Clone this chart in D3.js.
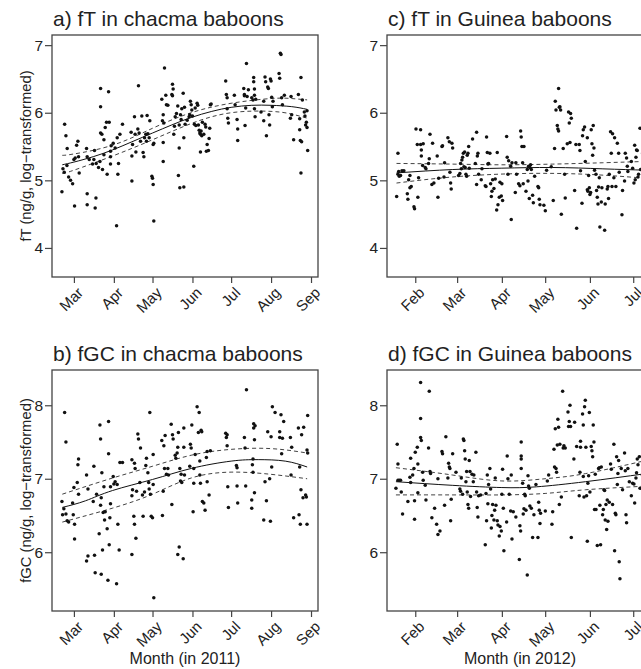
<!DOCTYPE html>
<html>
<head>
<meta charset="utf-8">
<script src="https://cdn.jsdelivr.net/npm/d3@7/dist/d3.min.js"></script>
<style>
  html, body { margin: 0; padding: 0; background: #fff; }
  svg { display: block; font-family: "Liberation Sans", Arial, Helvetica, sans-serif; }
</style>
</head>
<body>
<svg id="chart" width="641" height="669"></svg>
<script>
// ---- data: [days since first month tick, log value] ----
// a) fT chacma, days since 2011-03-01
const chacmaT = [
  [-9.3,4.83],[-7.2,5.83],[-6.2,5.66],[-5.2,5.47],[-8.5,5.17],[-7.5,5.12],[-5.4,5.22],[-4.1,5.05],[-2.6,5.0],[-1.0,4.95],
  [0.5,4.62],[0,5.31],[1.0,5.33],[2.1,5.52],[3.1,5.58],[3.6,5.35],[4.1,5.11],
  [9.8,5.47],[10.3,5.35],[10.3,4.80],[10.3,4.64],[11.9,5.31],[14.5,5.24],[15.5,5.31],[16.0,5.44],[16.5,4.59],[17.1,4.74],
  [17.3,5.25],[19.1,5.19],[20.2,5.28],[20.7,6.36],[20.7,6.09],[20.7,5.70],[21.7,5.68],[22.2,5.16],[23.3,5.60],[23.3,5.38],
  [24.3,5.78],[25.3,5.86],[25.8,5.09],[26.9,6.31],[27.4,5.86],[28.4,5.43],[28.4,5.35],[28.4,5.24],[28.9,5.51],[30.5,5.55],
  [32.0,5.48],[33.1,4.33],[33.6,5.63],[34.1,5.09],[34.6,5.25],[35.7,5.68],[37.7,5.83],
  [44.4,5.71],[45.0,5.36],[45.0,4.99],[45.5,5.53],[47.0,5.94],[47.5,5.68],[48.1,5.42],[49.6,5.76],[50.1,6.40],[50.6,5.70],
  [51.7,5.58],[52.7,5.95],[53.7,5.41],[54.3,5.35],[54.8,5.63],[55.8,5.68],[56.3,5.58],[56.8,5.96],[57.4,5.69],[58.4,5.63],
  [58.9,5.88],[60.5,5.06],[61.0,5.03],[61.5,4.94],[61.5,5.53],[62.0,4.40],[62.0,5.55],
  [68.2,6.20],[68.7,5.88],[69.3,5.97],[69.3,5.56],[69.3,5.28],[69.8,5.85],[70.3,6.66],[71.3,6.26],[71.8,6.12],[72.9,6.11],
  [76.0,6.27],[76.5,6.42],[76.5,6.25],[77.0,6.35],[77.5,5.68],[78.0,5.80],[78.6,5.94],[79.6,5.99],[80.6,6.10],[81.1,5.07],
  [81.7,5.48],[81.7,5.82],[82.2,4.89],[82.7,5.97],[83.2,5.90],[83.7,6.06],[84.8,6.29],[85.3,4.90],[85.3,5.63],[85.8,6.08],
  [86.3,5.83],[87.9,5.89],[89.4,5.94],[89.9,5.97],[90.4,6.17],[91.0,6.12],[91.5,6.04],
  [92.0,5.95],[93.0,5.21],[93.5,5.83],[94.1,6.07],[94.6,5.81],[95.6,6.14],[96.1,6.11],[96.6,5.82],[97.2,5.74],[97.7,5.70],
  [98.2,5.42],[98.2,5.68],[98.7,5.73],[99.2,5.66],[99.7,5.86],[100.8,5.68],[101.8,5.83],[102.3,5.79],[102.8,5.43],[103.4,5.53],
  [104.4,5.44],[104.9,5.62],[105.4,5.77],[105.9,6.12],[106.5,6.13],
  [117.8,6.47],[118.3,6.27],[118.9,6.22],[118.9,6.06],[119.4,5.92],[119.9,5.85],[124.5,6.26],[125.1,6.12],[126.6,5.90],[127.1,5.76],
  [127.1,5.59],[131.8,6.36],[132.3,6.27],[132.3,6.25],[132.8,5.81],[133.3,6.07],[133.9,6.73],[134.4,6.24],[135.4,6.34],[138.0,6.22],
  [139.0,6.19],[139.5,6.52],[139.5,6.46],[140.1,6.35],[140.1,6.26],[140.1,6.06],[140.6,5.94],[141.1,6.20],
  [145.2,6.01],[147.3,6.17],[147.3,5.88],[148.3,6.53],[148.8,6.46],[149.4,5.66],[150.4,6.38],[150.9,6.36],[151.4,5.97],[151.9,5.82],
  [152.5,6.50],[153.0,6.47],[153.5,6.23],[154.0,6.09],[154.5,6.17],[159.2,6.58],[159.7,6.51],[160.2,6.88],[160.7,6.86],[161.2,6.22],
  [161.8,6.12],[163.3,6.26],
  [168.0,5.92],[168.5,6.24],[169.0,5.97],[170.5,5.60],[174.2,6.27],[175.2,5.91],[175.2,5.75],[175.7,5.59],[176.2,5.11],[176.2,6.52],
  [176.7,5.57],[177.3,6.19],[178.8,6.01],[179.3,5.95],[179.8,5.82],[180.4,5.86],[180.9,5.78],[180.9,6.03],[181.4,5.44]
];
const chacmaTFit = [[-9,5.23],[0,5.27],[15,5.35],[30,5.45],[45,5.57],[61,5.70],[76,5.82],[91,5.93],[107,6.02],[122,6.08],[138,6.11],[153,6.11],[169,6.09],[181,6.05]];
const chacmaTHi = [[-9,5.37],[0,5.39],[30,5.52],[61,5.77],[91,6.0],[122,6.14],[153,6.21],[169,6.21],[181,6.19]];
const chacmaTLo = [[-9,5.10],[0,5.15],[30,5.36],[61,5.60],[91,5.84],[122,6.0],[153,6.02],[169,5.98],[181,5.92]];

// b) fGC chacma, days since 2011-03-01
const chacmaGC = [
  [-9.3,6.69],[-8.8,6.51],[-7.8,6.59],[-7.2,7.90],[-6.2,7.50],[-6.2,6.52],[-5.2,6.43],[-4.1,6.41],[-1.0,6.67],[-0.5,6.51],
  [0,6.88],[0.5,6.38],[0.5,6.18],[2.6,6.95],[3.1,7.19],[3.6,7.27],[3.6,6.79],[9.8,7.05],[9.8,5.88],[10.9,5.95],[10.9,6.86],
  [15.0,6.69],[15.5,7.17],[16.0,5.96],[16.5,5.72],[17.6,6.79],[19.6,6.25],[20.2,7.73],[20.7,7.54],[20.7,6.64],[21.2,5.70],
  [21.2,6.74],[21.7,7.08],[22.2,6.03],[22.7,6.54],[23.3,6.89],[23.8,6.44],[24.3,6.55],[25.8,6.32],[26.4,5.62],[26.9,7.78],
  [26.9,7.34],[27.4,6.10],[27.9,6.47],[28.4,6.66],[28.4,6.89],[30.5,7.03],[31.0,6.93],[32.0,6.96],[33.1,5.57],[33.6,6.92],
  [34.1,6.38],[35.1,6.03],[35.7,7.22],[37.7,7.22],
  [45.0,7.26],[45.0,6.77],[45.0,5.97],[45.5,6.85],[46.5,6.49],[47.0,6.38],[47.0,7.21],[47.5,7.14],[48.1,6.19],[48.6,6.83],
  [49.6,7.61],[50.1,7.54],[51.2,6.95],[51.7,7.42],[53.2,6.78],[53.7,6.49],[54.8,6.82],[55.8,7.18],[56.3,7.28],[57.4,7.08],
  [58.0,6.95],[58.4,6.86],[58.9,7.90],[59.4,6.79],[60.0,6.49],[61.0,6.47],[61.5,7.33],[61.5,6.92],[62.0,5.38],
  [68.2,7.52],[68.7,6.50],[69.3,6.83],[69.8,7.45],[70.3,7.14],[70.8,7.59],[71.8,7.06],[72.9,7.14],[73.4,7.05],[75.5,7.74],
  [76.0,6.65],[76.5,7.60],[77.0,7.54],[78.6,7.32],[79.1,7.28],[80.1,7.35],[80.6,7.43],[80.6,5.97],[81.1,7.63],[81.7,6.07],
  [82.2,7.14],[82.7,6.97],[83.2,7.06],[83.7,6.95],[84.8,5.91],[85.3,7.43],[85.3,7.69],[85.8,7.05],
  [89.9,7.17],[90.4,7.47],[91.0,7.42],[91.5,7.73],[92.5,6.55],[93.0,7.14],[93.0,6.94],[94.1,7.33],[95.6,7.98],[96.6,7.63],
  [97.2,7.90],[97.7,7.24],[97.7,7.05],[98.2,6.94],[98.7,7.66],[99.2,7.64],[99.7,6.69],[100.8,6.67],[101.8,6.57],[102.8,7.29],
  [103.4,7.37],[103.4,6.96],[104.9,6.78],[105.9,7.38],
  [117.8,7.62],[118.3,7.56],[118.9,7.60],[118.9,7.45],[119.4,6.89],[119.9,6.61],[126.1,7.18],[126.6,7.15],[126.6,6.90],[127.1,6.67],
  [132.3,7.56],[132.8,7.42],[133.3,6.90],[133.9,8.21],[138.0,6.60],[138.0,6.71],[138.5,7.19],[139.0,7.09],[139.0,7.27],[139.5,7.69],
  [139.5,7.75],[140.1,6.81],[140.1,7.53],[140.6,7.72],
  [147.3,6.44],[148.3,6.96],[149.4,6.70],[150.4,7.64],[151.9,7.0],[152.5,6.42],[153.0,7.57],[153.5,7.16],[154.0,7.98],[156.1,7.90],
  [159.7,7.64],[159.7,7.56],[160.7,7.87],[161.2,7.34],[161.8,7.55],[162.8,7.78],
  [168.0,7.56],[168.5,7.05],[169.0,7.43],[170.5,6.47],[174.2,7.69],[174.7,6.51],[175.2,7.16],[175.7,6.38],[176.2,6.85],[176.7,7.60],
  [177.8,6.74],[178.3,7.70],[179.8,6.78],[180.4,6.75],[180.9,7.39],[180.9,6.38],[181.4,7.86],[181.4,7.35]
];
const chacmaGCFit = [[-9,6.61],[9,6.70],[30,6.84],[61,6.99],[91,7.14],[122,7.24],[143,7.26],[164,7.24],[181,7.16]];
const chacmaGCHi = [[-9,6.79],[30,7.01],[61,7.17],[91,7.32],[122,7.40],[153,7.41],[181,7.35]];
const chacmaGCLo = [[-9,6.41],[30,6.60],[61,6.79],[91,7.01],[122,7.09],[153,7.06],[181,7.0]];

// c) fT Guinea, days since 2012-02-01
const guineaT = [
  [-12.9,4.76],[-12.0,5.40],[-12.0,5.09],[-11.5,5.13],[-11.1,5.06],[-10.2,5.07],[-9.2,5.14],[-7.9,5.14],[-5.5,4.80],[-5.1,4.72],
  [-4.6,5.01],[-3.7,5.07],[-3.7,4.89],[-2.8,4.91],[-0.9,4.61],[-0.5,4.58],[0.5,5.76],[1.4,5.53],[1.8,4.75],[2.3,5.04],
  [3.7,5.75],[3.7,5.53],[4.2,5.45],[4.2,5.36],[5.1,5.22],[5.5,5.54],[6.9,5.19],[7.4,5.17],
  [9.2,5.25],[9.7,5.32],[10.2,5.68],[11.5,4.94],[12.0,5.55],[12.9,4.96],[15.2,5.36],[15.7,4.75],[16.2,5.03],[18.5,5.50],
  [18.9,5.51],[19.9,5.05],[20.3,5.26],[22.6,5.63],[23.6,5.57],[24.0,5.12],[24.5,4.96],[24.9,4.87],[25.4,5.55],[25.9,5.48],
  [30.0,5.07],[30.9,5.10],[31.4,5.25],[31.9,5.17],[32.3,5.30],[32.8,5.34],[33.3,5.40],[33.7,5.20],[34.2,5.42],[34.6,5.19],
  [35.1,5.09],[35.6,5.06],[36.0,5.37],[36.5,5.40],[37.0,5.50],[37.4,5.18],
  [39.7,5.61],[41.6,5.25],[42.5,5.71],[42.5,4.94],[43.0,5.36],[43.4,5.40],[43.9,5.09],[45.7,5.01],[46.2,5.17],[48.5,4.92],
  [49.0,4.91],[49.4,5.64],[49.9,5.41],[50.3,5.24],[50.8,5.25],[51.7,5.40],[52.2,4.95],[52.7,4.76],[53.1,4.84],[53.6,5.01],
  [54.5,4.88],[55.4,5.02],[56.4,4.56],[56.8,5.41],[57.3,4.64],[58.2,4.75],[58.7,4.97],[59.6,4.77],[60.0,4.95],[60.5,4.70],
  [63.3,5.65],[63.7,5.34],[64.2,5.09],[64.7,5.29],[66.1,5.21],[66.5,4.42],[67.0,5.26],[69.3,4.82],[69.7,5.26],[70.2,5.09],
  [71.6,4.95],[72.5,4.92],[73.0,5.73],[73.4,5.64],[73.9,5.50],[74.4,5.26],[74.8,4.95],[75.3,5.50],[76.7,4.84],[77.6,5.16],
  [78.1,4.99],[78.5,5.21],[79.0,4.73],[79.4,5.19],[79.9,5.23],[80.4,5.16],[81.3,4.78],[81.8,4.67],[82.7,5.06],[85.0,4.91],
  [85.5,4.89],[85.9,4.72],[86.4,4.64],[89.1,4.63],[90.1,4.55],[91.0,5.15],
  [94.2,5.20],[95.6,4.70],[96.5,5.47],[97.0,6.17],[97.5,6.04],[98.4,5.81],[98.8,5.76],[99.3,5.73],[99.3,6.36],[99.8,6.08],
  [100.2,6.09],[100.7,6.04],[101.2,4.50],[102.5,5.47],[103.5,5.09],[103.9,4.74],[105.3,5.54],[106.2,6.01],[106.7,5.85],[107.2,5.56],
  [107.6,5.99],[108.1,5.92],[110.4,4.85],[111.3,5.53],[111.8,4.29],[113.6,5.53],[114.1,5.44],[114.5,5.14],[115.5,4.66],[115.9,5.66],
  [116.4,5.75],[117.3,5.79],[117.8,5.28],[119.2,5.63],[119.2,4.86],[119.6,4.84],[120.1,5.07],[120.6,4.89],[121.0,4.79],[121.5,4.82],
  [121.9,5.75],[122.4,5.54],[122.9,5.37],
  [123.3,5.81],[123.8,5.48],[124.2,5.15],[125.2,5.09],[125.6,4.85],[126.1,4.75],[126.6,4.65],[127.0,4.90],[127.5,5.04],[127.9,4.31],
  [128.9,4.68],[129.3,4.89],[131.2,4.26],[131.6,4.65],[133.0,4.87],[133.5,4.91],[133.9,4.73],[134.4,5.09],[135.3,5.72],[135.8,5.40],
  [136.3,4.91],[136.7,5.69],[137.6,5.04],[138.1,5.63],[139.0,4.91],[140.0,5.55],[140.9,5.40],[141.3,5.12],[143.2,4.49],[143.6,4.85],
  [145.0,4.99],[145.5,5.40],[146.4,5.33],[146.9,5.21],[147.3,5.13],[149.7,5.28],[150.6,5.18],[151.5,4.96],[152.0,5.52],[152.4,5.01],
  [152.9,5.34],[153.3,5.45],[153.8,5.44],[154.3,5.05],[154.7,5.09],[155.7,5.77],[156.1,5.16],[157.5,5.40],[158.6,4.98]
];
const guineaTFit = [[-13,5.11],[26,5.16],[60,5.18],[95,5.19],[130,5.17],[160,5.15]];
const guineaTHi = [[-13,5.25],[26,5.24],[60,5.23],[95,5.24],[130,5.26],[160,5.28]];
const guineaTLo = [[-13,4.96],[26,5.05],[72,5.10],[118,5.09],[160,5.03]];

// d) fGC Guinea, days since 2012-02-01
const guineaGC = [
  [-13.4,6.87],[-12.5,7.47],[-12.0,7.20],[-12.0,6.98],[-11.1,6.98],[-10.2,6.98],[-9.7,6.82],[-8.8,6.52],[-5.1,6.69],[-3.7,7.02],
  [-3.2,7.28],[-3.2,6.95],[-1.8,7.05],[-0.9,7.14],[-0.5,6.70],[-0.5,6.45],[0,7.36],[1.4,7.43],[1.8,7.20],[1.8,6.81],
  [3.7,8.31],[3.7,7.82],[3.7,7.56],[4.2,7.52],[5.1,7.09],[5.5,6.98],[6.9,6.91],[7.4,6.71],[9.2,7.42],[9.7,8.19],[10.2,7.10],[10.6,7.07],
  [11.5,6.47],[13.4,6.60],[14.8,6.38],[15.7,6.24],[15.7,7.0],[17.1,6.29],[18.5,7.37],[18.9,7.34],[20.3,6.64],[21.2,7.57],
  [22.6,7.01],[23.1,7.21],[23.6,7.16],[24.0,7.14],[24.5,6.43],[24.9,6.72],[25.9,7.34],[28.2,7.09],[30.9,6.86],[31.4,6.83],
  [31.9,7.01],[32.8,6.79],[33.3,7.54],[33.7,7.52],[34.2,7.38],[34.6,7.27],[35.1,6.96],[35.6,7.10],[36.0,6.82],[36.5,6.65],
  [37.0,6.60],[37.4,7.25],[37.9,7.10],[38.3,6.76],[39.3,7.06],
  [40.2,6.96],[40.6,7.05],[42.0,7.36],[42.5,6.82],[42.9,6.61],[43.4,6.48],[43.9,6.77],[45.3,6.78],[48.5,6.10],[49.0,6.80],
  [49.4,6.43],[49.9,7.05],[50.3,6.66],[50.8,6.92],[51.7,7.14],[52.2,6.86],[52.7,6.33],[53.1,6.50],[53.6,6.65],[54.5,6.44],
  [55.0,6.57],[55.4,7.01],[55.9,6.64],[56.8,6.43],[57.3,6.37],[58.2,6.22],[58.7,6.35],[59.6,6.29],[60.0,6.79],[60.5,7.13],
  [61.0,6.60],[61.4,6.02],[63.3,6.41],[63.7,7.31],[64.2,7.0],
  [65.1,6.79],[66.1,6.56],[66.5,7.05],[67.0,6.18],[67.9,6.55],[69.7,6.48],[72.1,5.90],[72.5,6.36],[73.0,6.29],[73.4,7.50],
  [73.4,7.31],[73.4,7.27],[73.4,7.14],[74.4,6.94],[74.8,6.52],[75.3,6.59],[75.8,6.79],[76.2,6.77],[76.7,6.57],[77.6,5.69],
  [78.1,7.04],[78.5,6.90],[79.0,6.87],[79.4,6.63],[80.4,6.60],[81.3,6.20],[82.2,6.51],[83.6,6.92],[85.0,6.20],[85.5,6.68],
  [85.9,6.57],[86.4,6.39],[86.8,6.53],[90.1,6.56],[91.5,6.97],[92.4,7.05],
  [94.7,6.38],[95.2,6.55],[96.1,7.40],[96.5,7.16],[97.0,7.68],[97.5,7.14],[97.9,7.09],[98.4,7.46],[98.8,7.81],[99.3,7.70],
  [99.8,6.65],[100.2,7.47],[101.2,6.75],[102.1,8.19],[102.5,7.42],[103.0,7.45],[103.9,7.42],[105.8,7.91],[106.2,7.71],[106.7,7.78],
  [107.2,8.00],[107.6,7.71],[108.1,6.20],[109.9,7.27],[110.4,7.77],[111.8,7.44],[113.6,6.77],[114.1,7.09],[114.5,7.43],[114.5,7.51],
  [115.9,7.88],[116.4,7.73],[116.4,7.03],[116.9,6.75],[117.3,7.98],[117.8,8.07],[118.2,7.43],[118.7,6.77],[119.2,6.15],[119.6,6.94],
  [120.1,7.04],[120.6,7.90],[121.0,6.82],
  [121.9,7.44],[122.4,7.38],[122.9,7.30],[123.3,7.73],[123.8,7.50],[124.2,6.58],[124.7,7.06],[125.2,6.58],[126.1,6.09],[127.0,7.14],
  [127.5,7.15],[127.9,6.64],[128.4,6.10],[128.9,7.16],[129.8,6.51],[130.3,6.58],[130.7,6.85],[131.2,6.84],[131.6,6.44],[132.1,6.65],
  [132.6,6.31],[133.0,6.71],[133.5,6.42],[134.4,6.68],[135.3,7.20],[135.8,7.13],[136.7,6.65],[137.6,7.47],[138.1,6.02],[138.6,6.53],
  [139.0,6.51],[139.5,7.30],[140.0,6.92],[140.4,7.07],[140.9,7.25],[141.3,5.87],[141.8,5.64],[142.7,7.14],[143.6,6.85],[145.0,7.35],
  [145.5,7.11],[146.0,6.51],[146.4,6.40],[147.3,7.14],[148.3,6.96],[149.7,6.77],[150.6,6.94],[151.5,6.93],[152.0,6.67],[152.9,7.01],
  [153.3,7.08],[153.8,7.27],[154.3,7.19],[155.2,7.30],[155.7,6.87],[157.4,7.05],[158.2,6.62]
];
const guineaGCFit = [[-13.4,6.96],[26,6.91],[60,6.88],[84,6.89],[118,6.96],[160,7.07]];
const guineaGCHi = [[-13.4,7.15],[26,7.05],[60,6.97],[90,7.0],[118,7.07],[160,7.25]];
const guineaGCLo = [[-13.4,6.78],[26,6.78],[60,6.78],[90,6.80],[118,6.85],[160,6.90]];

// axis settings
const yDomT = [3.57, 7.15], yTicksT = [4, 5, 6, 7];
const yDomGC = [5.2, 8.48], yTicksGC = [6, 7, 8];

const parseT = d3.timeParse('%Y-%m-%d %H:%M');
const panels = [
  { title: 'a) fT in chacma baboons', pts: chacmaT, fit: chacmaTFit, hi: chacmaTHi, lo: chacmaTLo,
    base: '2011-03-01 00:00', xDom: ['2011-02-12 00:00', '2011-09-06 10:00'], yDom: yDomT, yTicks: yTicksT,
    ylab: 'fT (ng/g, log\u2212transformed)', xlab: null, left: 52, top: 35, h: 242 },
  { title: 'b) fGC in chacma baboons', pts: chacmaGC, fit: chacmaGCFit, hi: chacmaGCHi, lo: chacmaGCLo,
    base: '2011-03-01 00:00', xDom: ['2011-02-12 00:00', '2011-09-06 10:00'], yDom: yDomGC, yTicks: yTicksGC,
    ylab: 'fGC (ng/g, log\u2212transformed)', xlab: 'Month (in 2011)', left: 52, top: 370, h: 241 },
  { title: 'c) fT in Guinea baboons', pts: guineaT, fit: guineaTFit, hi: guineaTHi, lo: guineaTLo,
    base: '2012-02-01 00:00', xDom: ['2012-01-12 10:00', '2012-07-14 17:00'], yDom: yDomT, yTicks: yTicksT,
    ylab: null, xlab: null, left: 387, top: 35, h: 242 },
  { title: 'd) fGC in Guinea baboons', pts: guineaGC, fit: guineaGCFit, hi: guineaGCHi, lo: guineaGCLo,
    base: '2012-02-01 00:00', xDom: ['2012-01-12 10:00', '2012-07-14 17:00'], yDom: yDomGC, yTicks: yTicksGC,
    ylab: null, xlab: 'Month (in 2012)', left: 387, top: 370, h: 241 }
];

const PW = 266, AX = '#444', TXT = '#222';
const svg = d3.select('#chart');

panels.forEach(function (p) {
  const base = parseT(p.base);
  const toDate = function (d) { return new Date(base.getTime() + d * 864e5); };
  const x = d3.scaleTime().domain(p.xDom.map(parseT)).range([0, PW]);
  const y = d3.scaleLinear().domain(p.yDom).range([p.h, 0]);
  const g = svg.append('g').attr('transform', 'translate(' + p.left + ',' + p.top + ')');

  // title
  svg.append('text').attr('x', p.left + 1).attr('y', p.top - 9)
    .attr('font-size', 21).attr('fill', TXT).text(p.title);

  // points
  g.append('g').selectAll('circle').data(p.pts).join('circle')
    .attr('cx', function (d) { return x(toDate(d[0])); })
    .attr('cy', function (d) { return y(d[1]); })
    .attr('r', 1.75).attr('fill', '#111');

  // fit + CI
  const line = d3.line().curve(d3.curveNatural)
    .x(function (d) { return x(toDate(d[0])); }).y(function (d) { return y(d[1]); });
  g.append('path').attr('d', line(p.fit)).attr('fill', 'none').attr('stroke', '#111').attr('stroke-width', 1);
  [p.hi, p.lo].forEach(function (arr) {
    g.append('path').attr('d', line(arr)).attr('fill', 'none').attr('stroke', '#111')
      .attr('stroke-width', 0.8).attr('stroke-dasharray', '4,3');
  });

  // frame
  g.append('rect').attr('width', PW).attr('height', p.h)
    .attr('fill', 'none').attr('stroke', AX).attr('stroke-width', 1.3);

  // y axis
  const ya = g.append('g').call(d3.axisLeft(y).tickValues(p.yTicks).tickSize(7).tickPadding(2).tickFormat(d3.format('d')));
  ya.select('.domain').remove();
  ya.selectAll('line').attr('stroke', AX).attr('stroke-width', 1.2);
  ya.selectAll('text').attr('font-size', 15.5).attr('fill', TXT).attr('font-family', null);

  // x axis (month ticks, labels at 45 degrees)
  const xa = g.append('g').attr('transform', 'translate(0,' + p.h + ')')
    .call(d3.axisBottom(x).ticks(d3.timeMonth.every(1)).tickSize(6).tickFormat(d3.timeFormat('%b')));
  xa.select('.domain').remove();
  xa.selectAll('line').attr('stroke', AX).attr('stroke-width', 1.2);
  xa.selectAll('text').attr('font-size', 15).attr('fill', TXT).attr('font-family', null)
    .attr('text-anchor', 'end').attr('x', 0).attr('y', 0).attr('dy', '0.35em')
    .attr('transform', 'translate(6,13) rotate(-45)');

  if (p.ylab) {
    svg.append('text').attr('transform', 'translate(31,' + (p.top + p.h / 2) + ') rotate(-90)')
      .attr('text-anchor', 'middle').attr('font-size', 14.8).attr('fill', TXT).text(p.ylab);
  }
  if (p.xlab) {
    svg.append('text').attr('x', p.left + PW / 2).attr('y', 664)
      .attr('text-anchor', 'middle').attr('font-size', 16).attr('fill', TXT).text(p.xlab);
  }
});
</script>
</body>
</html>
